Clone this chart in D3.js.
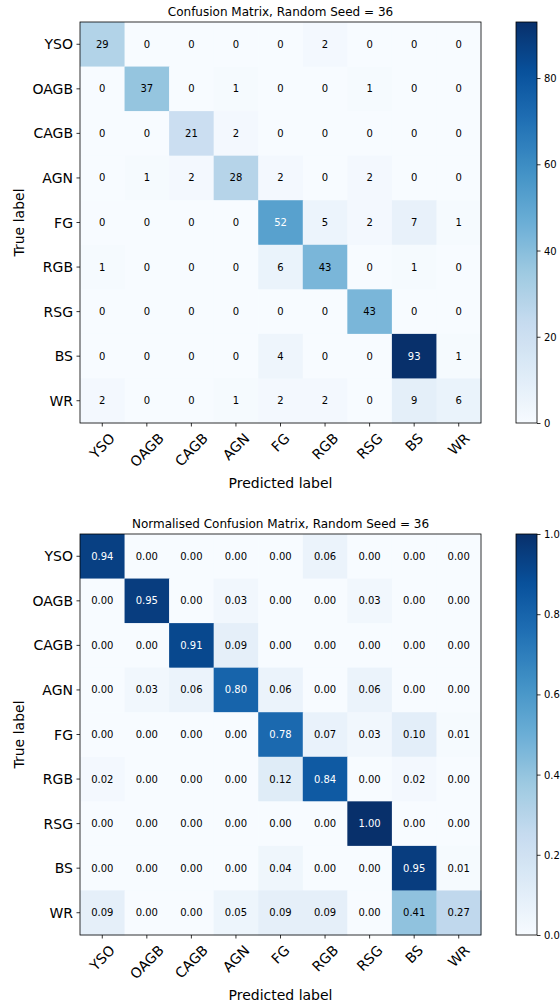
<!DOCTYPE html>
<html>
<head>
<meta charset="utf-8">
<script src="https://cdn.jsdelivr.net/npm/d3@7"></script>
<style>
  body { margin: 0; background: #fff; }
  svg { display: block; font-family: "DejaVu Sans", sans-serif; }
</style>
</head>
<body>
<svg id="chart" width="560" height="1002"></svg>
<script>
// class names, same order on both axes
const labels = ["YSO", "OAGB", "CAGB", "AGN", "FG", "RGB", "RSG", "BS", "WR"];

// raw counts, rows = true label, columns = predicted label
const counts = [
  [29, 0, 0, 0, 0, 2, 0, 0, 0],
  [0, 37, 0, 1, 0, 0, 1, 0, 0],
  [0, 0, 21, 2, 0, 0, 0, 0, 0],
  [0, 1, 2, 28, 2, 0, 2, 0, 0],
  [0, 0, 0, 0, 52, 5, 2, 7, 1],
  [1, 0, 0, 0, 6, 43, 0, 1, 0],
  [0, 0, 0, 0, 0, 0, 43, 0, 0],
  [0, 0, 0, 0, 4, 0, 0, 93, 1],
  [2, 0, 0, 1, 2, 2, 0, 9, 6]
];

// row normalised values as printed in the second matrix
const normalised = [
  [0.94, 0.00, 0.00, 0.00, 0.00, 0.06, 0.00, 0.00, 0.00],
  [0.00, 0.95, 0.00, 0.03, 0.00, 0.00, 0.03, 0.00, 0.00],
  [0.00, 0.00, 0.91, 0.09, 0.00, 0.00, 0.00, 0.00, 0.00],
  [0.00, 0.03, 0.06, 0.80, 0.06, 0.00, 0.06, 0.00, 0.00],
  [0.00, 0.00, 0.00, 0.00, 0.78, 0.07, 0.03, 0.10, 0.01],
  [0.02, 0.00, 0.00, 0.00, 0.12, 0.84, 0.00, 0.02, 0.00],
  [0.00, 0.00, 0.00, 0.00, 0.00, 0.00, 1.00, 0.00, 0.00],
  [0.00, 0.00, 0.00, 0.00, 0.04, 0.00, 0.00, 0.95, 0.01],
  [0.09, 0.00, 0.00, 0.05, 0.09, 0.09, 0.00, 0.41, 0.27]
];

// colorbar ticks
const countTicks = [0, 20, 40, 60, 80];
const normTicks = [0.0, 0.2, 0.4, 0.6, 0.8, 1.0];

const svg = d3.select("#chart");

// matplotlib "Blues" is the same 9 colours as d3.schemeBlues[9], linearly spaced
function bluesScale(vmax) {
  let stops = d3.range(9).map(i => vmax * i / 8);
  return d3.scaleLinear().domain(stops).range(d3.schemeBlues[9]);
}

function drawMatrix(opts) {
  let left = 80, size = 401, top = opts.top;
  let color = bluesScale(opts.vmax);
  let thresh = opts.vmax / 2;

  let x = d3.scaleBand().domain(labels).range([left, left + size]);
  let y = d3.scaleBand().domain(labels).range([top, top + size]);

  let g = svg.append("g");

  // cells
  opts.matrix.forEach((row, i) => {
    row.forEach((val, j) => {
      g.append("rect")
        .attr("x", x(labels[j]))
        .attr("y", y(labels[i]))
        .attr("width", x.bandwidth() + 0.5)
        .attr("height", y.bandwidth() + 0.5)
        .attr("fill", color(val));
    });
  });

  // numbers in the cells
  opts.matrix.forEach((row, i) => {
    row.forEach((val, j) => {
      g.append("text")
        .attr("x", x(labels[j]) + x.bandwidth() / 2)
        .attr("y", y(labels[i]) + y.bandwidth() / 2)
        .attr("text-anchor", "middle")
        .attr("dominant-baseline", "central")
        .attr("font-size", 10)
        .attr("fill", val > thresh ? "#fff" : "#000")
        .text(opts.fmt(val));
    });
  });

  // frame
  g.append("rect")
    .attr("x", left).attr("y", top)
    .attr("width", size).attr("height", size)
    .attr("fill", "none")
    .attr("stroke", "#000")
    .attr("stroke-width", 0.8);

  // y axis
  let yAxis = g.append("g")
    .attr("transform", `translate(${left},0)`)
    .call(d3.axisLeft(y).tickSizeInner(3.5).tickSizeOuter(0).tickPadding(3.5));
  yAxis.select(".domain").remove();
  yAxis.selectAll("line").attr("stroke-width", 0.8);
  yAxis.selectAll("text")
    .attr("font-size", 14)
    .attr("font-family", "DejaVu Sans")
    .attr("dy", null)
    .attr("dominant-baseline", "central")
    .attr("fill", "#000");
  yAxis.attr("font-family", null).attr("font-size", null);

  // x axis, labels turned 45 degrees and centred under the tick
  let xAxis = g.append("g")
    .attr("transform", `translate(0,${top + size})`)
    .call(d3.axisBottom(x).tickSizeInner(3.5).tickSizeOuter(0));
  xAxis.select(".domain").remove();
  xAxis.selectAll("line").attr("stroke-width", 0.8);
  xAxis.attr("font-family", null).attr("font-size", null);
  xAxis.selectAll("text")
    .attr("font-size", 14)
    .attr("fill", "#000")
    .attr("y", null)
    .attr("dy", null)
    .attr("text-anchor", "middle")
    .attr("dominant-baseline", "central")
    .each(function () {
      let w = this.getComputedTextLength();
      let h = 14 * 1.16;
      let c = 7 + 0.7071 * (w + h) / 2;
      d3.select(this).attr("transform", `translate(0,${c}) rotate(-45)`);
    });

  // title and axis labels
  g.append("text")
    .attr("x", left + size / 2)
    .attr("y", top - 6)
    .attr("text-anchor", "middle")
    .attr("font-size", 12)
    .text(opts.title);

  g.append("text")
    .attr("transform", `translate(24,${top + size / 2}) rotate(-90)`)
    .attr("text-anchor", "middle")
    .attr("font-size", 14)
    .text("True label");

  g.append("text")
    .attr("x", left + size / 2)
    .attr("y", top + size + 65)
    .attr("text-anchor", "middle")
    .attr("font-size", 14)
    .text("Predicted label");

  // colorbar
  let cbX = 516, cbW = 21;
  let gradId = "grad" + top;
  let grad = svg.append("defs").append("linearGradient")
    .attr("id", gradId)
    .attr("x1", 0).attr("y1", 1).attr("x2", 0).attr("y2", 0);
  d3.range(0, 1.0001, 0.02).forEach(t => {
    grad.append("stop")
      .attr("offset", t)
      .attr("stop-color", color(t * opts.vmax));
  });

  g.append("rect")
    .attr("x", cbX).attr("y", top)
    .attr("width", cbW).attr("height", size)
    .attr("fill", `url(#${gradId})`)
    .attr("stroke", "#000")
    .attr("stroke-width", 0.8);

  let cbScale = d3.scaleLinear().domain([0, opts.vmax]).range([top + size, top]);
  let cbAxis = g.append("g")
    .attr("transform", `translate(${cbX + cbW},0)`)
    .call(d3.axisRight(cbScale)
      .tickValues(opts.ticks)
      .tickFormat(opts.tickFmt)
      .tickSizeInner(3.5).tickSizeOuter(0).tickPadding(3.5));
  cbAxis.select(".domain").remove();
  cbAxis.selectAll("line").attr("stroke-width", 0.8);
  cbAxis.attr("font-family", null).attr("font-size", null);
  cbAxis.selectAll("text")
    .attr("font-size", 10)
    .attr("fill", "#000")
    .attr("dy", null)
    .attr("dominant-baseline", "central");
}

drawMatrix({
  top: 22,
  matrix: counts,
  vmax: d3.max(counts.flat()),
  fmt: d3.format("d"),
  ticks: countTicks,
  tickFmt: d3.format("d"),
  title: "Confusion Matrix, Random Seed = 36"
});

drawMatrix({
  top: 534,
  matrix: normalised,
  vmax: d3.max(normalised.flat()),
  fmt: d3.format(".2f"),
  ticks: normTicks,
  tickFmt: d3.format(".1f"),
  title: "Normalised Confusion Matrix, Random Seed = 36"
});
</script>
</body>
</html>
